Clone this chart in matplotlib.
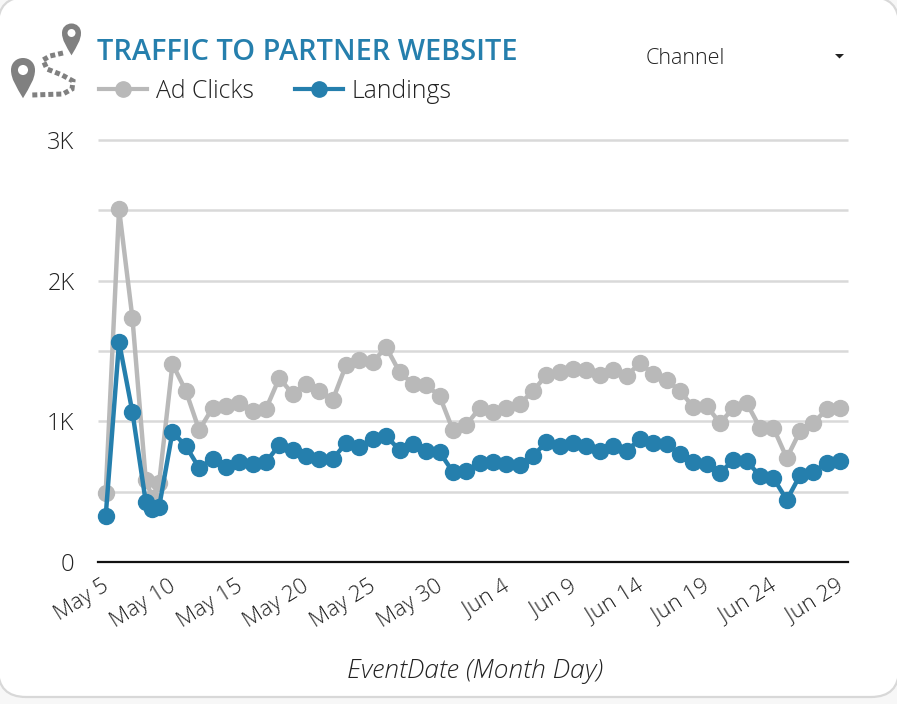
import matplotlib
matplotlib.use('Agg')
import numpy as np
import matplotlib.pyplot as plt
from matplotlib.patches import Circle, FancyBboxPatch, PathPatch, Polygon
from matplotlib.path import Path
from matplotlib.transforms import ScaledTranslation

# day offsets from May 5, the source has an extra point between May 8 and May 9
days = [0, 1, 2, 3, 3.5] + list(range(4, 56))

ad_clicks = [490, 2510, 1735, 583, 455, 562, 1408, 1216, 938, 1095, 1109, 1130, 1073, 1088, 1308,
             1194, 1265, 1216, 1152, 1400, 1436, 1422, 1528, 1351, 1265, 1258, 1180, 938, 974,
             1095, 1066, 1095, 1123, 1216, 1329, 1351, 1372, 1365, 1329, 1365, 1322, 1415, 1336,
             1294, 1216, 1102, 1109, 988, 1095, 1130, 953, 953, 739, 931, 988, 1088, 1095]
landings = [327, 1564, 1066, 427, 377, 391, 924, 825, 668, 732, 675, 711, 697, 711, 832,
            796, 754, 732, 732, 846, 818, 874, 896, 796, 839, 789, 782, 640, 647,
            704, 711, 697, 690, 754, 853, 825, 846, 825, 789, 825, 789, 874, 846,
            839, 768, 711, 697, 633, 725, 718, 611, 597, 441, 618, 640, 704, 718]

tick_days = [0, 5, 10, 15, 20, 25, 30, 35, 40, 45, 50, 55]
tick_labels = ['May 5', 'May 10', 'May 15', 'May 20', 'May 25', 'May 30',
               'Jun 4', 'Jun 9', 'Jun 14', 'Jun 19', 'Jun 24', 'Jun 29']
y_ticks = [0, 1000, 2000, 3000]
y_labels = ['0', '1K', '2K', '3K']
grid_values = [500, 1000, 1500, 2000, 2500, 3000]

GRAY = '#b9b9b9'
BLUE = '#257fad'
TEXT = '#222222'
W, H = 897, 704

plt.rcParams['font.family'] = ['Open Sans', 'DejaVu Sans']
plt.rcParams['font.weight'] = 300

fig = plt.figure(figsize=(W / 100, H / 100), dpi=100, facecolor='#f7f7f7')

# overlay in pixel coordinates for the card and the icon
bg = fig.add_axes([0, 0, 1, 1])
bg.set_xlim(0, W)
bg.set_ylim(H, 0)
bg.axis('off')
bg.add_patch(FancyBboxPatch((-2, -3), W + 4, 700, boxstyle='round,pad=0,rounding_size=28',
                            fc='white', ec='#d8d8d8', lw=1.6))


def pin(x, y, r):
    # teardrop map pin, (x, y) is the centre of the head
    tip = y + r * 2.35
    verts = [(x, tip), (x - r * 0.55, y + r * 1.4), (x - r, y + r * 0.75), (x - r, y),
             (x - r, y - r * 0.6), (x - r * 0.55, y - r), (x, y - r),
             (x + r * 0.55, y - r), (x + r, y - r * 0.6), (x + r, y),
             (x + r, y + r * 0.75), (x + r * 0.55, y + r * 1.4), (x, tip)]
    codes = [Path.MOVETO] + [Path.CURVE4] * 12
    bg.add_patch(PathPatch(Path(verts, codes), fc='#808080', ec='none'))
    bg.add_patch(Circle((x, y), r * 0.42, fc='white', ec='none'))


pin(71.5, 33, 9.5)
pin(23, 70, 12)
route = Path([(63, 53), (50, 56), (43, 60), (47, 69), (62, 75), (73, 81), (72, 89), (63, 94), (32, 95)])
bg.add_patch(PathPatch(route, fc='none', ec='#808080', lw=3.6, ls=(0, (1, 0.6))))
bg.add_patch(Polygon([(835, 54), (844, 54), (839.5, 58.5)], fc=TEXT, ec='none'))

ax = fig.add_axes([98 / W, 1 - 562 / H, 750 / W, 422 / H])
ax.patch.set_alpha(0)
x_per_day = 734.5 / 55
ax.set_xlim(-7.7 / x_per_day, 742.3 / x_per_day)
ax.set_ylim(0, 3000)

for v in grid_values:
    ax.axhline(v, color='#d9d9d9', lw=1.8, zorder=1, clip_on=False, solid_capstyle='butt')

ax.plot(days, ad_clicks, color=GRAY, lw=3.2, marker='o', ms=11.5, mec=GRAY, zorder=3, clip_on=False)
ax.plot(days, landings, color=BLUE, lw=3.2, marker='o', ms=11.5, mec=BLUE, zorder=4, clip_on=False)

for s in ['top', 'right', 'left']:
    ax.spines[s].set_visible(False)
ax.spines['bottom'].set_color('#111111')
ax.spines['bottom'].set_linewidth(1.6)

ax.set_yticks(y_ticks)
ax.set_yticklabels(y_labels, fontsize=17, color=TEXT)
ax.tick_params(axis='y', length=0, pad=17)
ax.set_xticks(tick_days)
ax.set_xticklabels(tick_labels, fontsize=16, color=TEXT, rotation=32, ha='right', rotation_mode='anchor')
ax.tick_params(axis='x', length=0, pad=10)
# nudge the slanted labels a few pixels left
for lab in ax.get_xticklabels():
    lab.set_transform(lab.get_transform() + ScaledTranslation(-3 / 72, 0, fig.dpi_scale_trans))

fig.text(97 / W, 1 - 52 / H, 'TRAFFIC TO PARTNER WEBSITE', fontsize=20.8, fontweight=600, color=BLUE, va='center', ha='left')
fig.text(646 / W, 1 - 58 / H, 'Channel', fontsize=15.5, color=TEXT, va='center', ha='left')
fig.text(475 / W, 1 - 671 / H, 'EventDate (Month Day)', fontsize=19, style='italic', color=TEXT, va='center', ha='center')

# legend keys sit at fixed pixel spots, same as the source layout
for x0, color, name, tx in [(99, GRAY, 'Ad Clicks', 156), (295, BLUE, 'Landings', 352)]:
    bg.plot([x0, x0 + 48], [89, 89], color=color, lw=3)
    bg.plot([x0 + 24], [89], color=color, marker='o', ms=11, mec=color)
    bg.text(tx, 91, name, fontsize=17.8, color=TEXT, va='center', ha='left')
bg.set_xlim(0, W)
bg.set_ylim(H, 0)

fig.savefig('out.png', dpi=100, facecolor=fig.get_facecolor())
